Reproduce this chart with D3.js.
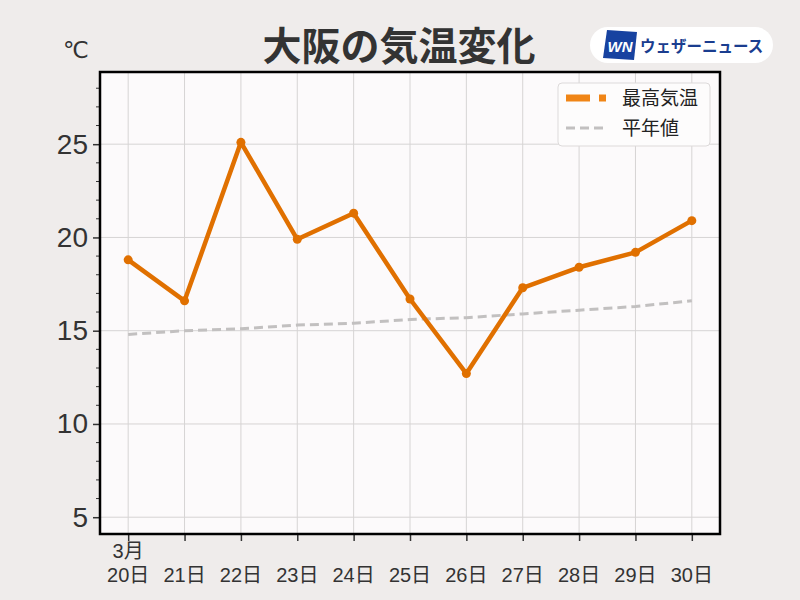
<!DOCTYPE html>
<html>
<head>
<meta charset="utf-8">
<script src="https://cdn.jsdelivr.net/npm/d3@7"></script>
<style>
  body { margin: 0; background: #efeceb; }
</style>
</head>
<body>
<div id="chart"></div>
<script>
// data
const days = [20, 21, 22, 23, 24, 25, 26, 27, 28, 29, 30];
const maxTemp = [18.8, 16.6, 25.1, 19.9, 21.3, 16.7, 12.7, 17.3, 18.4, 19.2, 20.9];
const normalTemp = [14.8, 15.0, 15.1, 15.3, 15.4, 15.6, 15.7, 15.9, 16.1, 16.3, 16.6];
const yTicks = [5, 10, 15, 20, 25];

const width = 800, height = 600;
const mLeft = 100, mRight = 720, mTop = 72, mBottom = 534;
const mixFont = "'Liberation Sans', 'Noto Sans CJK JP', sans-serif";
const jpFont = "'Noto Sans CJK JP', sans-serif";

const svg = d3.select("#chart").append("svg")
    .attr("width", width)
    .attr("height", height);

svg.append("rect").attr("width", width).attr("height", height).attr("fill", "#efeceb");

const x = d3.scaleLinear().domain([19.5, 30.5]).range([mLeft, mRight]);
const y = d3.scaleLinear().domain([4.1, 28.87]).range([mBottom, mTop]);

// plot background
svg.append("rect")
    .attr("x", mLeft).attr("y", mTop)
    .attr("width", mRight - mLeft).attr("height", mBottom - mTop)
    .attr("fill", "#fcfafb");

// grid
svg.append("g").selectAll("line")
    .data(yTicks).enter().append("line")
    .attr("x1", mLeft).attr("x2", mRight)
    .attr("y1", d => y(d)).attr("y2", d => y(d))
    .attr("stroke", "#d6d4d4").attr("stroke-width", 1);

svg.append("g").selectAll("line")
    .data(days).enter().append("line")
    .attr("y1", mTop).attr("y2", mBottom)
    .attr("x1", d => x(d)).attr("x2", d => x(d))
    .attr("stroke", "#d6d4d4").attr("stroke-width", 1);

// y axis
const yAxis = svg.append("g")
    .attr("transform", `translate(${mLeft},0)`)
    .call(d3.axisLeft(y).tickValues(yTicks).tickSize(7).tickPadding(5));
yAxis.select(".domain").remove();
yAxis.selectAll("text")
    .style("font-family", "'Liberation Sans', Arial, sans-serif")
    .style("font-size", "28px")
    .attr("fill", "#333");
yAxis.selectAll("line").attr("stroke", "#333").attr("stroke-width", 1.5);

const minor = d3.range(5, 29).filter(d => d % 5 !== 0);
svg.append("g").selectAll("line")
    .data(minor).enter().append("line")
    .attr("x1", mLeft - 4).attr("x2", mLeft)
    .attr("y1", d => y(d)).attr("y2", d => y(d))
    .attr("stroke", "#333").attr("stroke-width", 1);

// x axis
const xAxis = svg.append("g")
    .attr("transform", `translate(0,${mBottom})`)
    .call(d3.axisBottom(x).tickValues(days).tickSize(7).tickFormat(""));
xAxis.select(".domain").remove();
xAxis.selectAll("line").attr("stroke", "#333").attr("stroke-width", 1.5);

svg.append("g").selectAll("text")
    .data(days).enter().append("text")
    .attr("x", d => x(d)).attr("y", 582)
    .attr("text-anchor", "middle")
    .style("font-family", mixFont).style("font-size", "20px")
    .attr("fill", "#333")
    .text(d => d + "日");

svg.append("text")
    .attr("x", x(20)).attr("y", 558)
    .attr("text-anchor", "middle")
    .style("font-family", mixFont).style("font-size", "20px")
    .attr("fill", "#333")
    .text("3月");

// frame
svg.append("rect")
    .attr("x", mLeft).attr("y", mTop)
    .attr("width", mRight - mLeft).attr("height", mBottom - mTop)
    .attr("fill", "none").attr("stroke", "#000").attr("stroke-width", 2.5);

// unit
svg.append("text")
    .attr("x", 76).attr("y", 58)
    .attr("text-anchor", "middle")
    .style("font-family", "'DejaVu Sans', sans-serif").style("font-size", "23px")
    .attr("fill", "#333")
    .text("℃");

// normal line
const line = d3.line().x((d, i) => x(days[i])).y(d => y(d));
svg.append("path")
    .datum(normalTemp)
    .attr("d", line)
    .attr("fill", "none")
    .attr("stroke", "#c2c0c0")
    .attr("stroke-width", 3)
    .attr("stroke-dasharray", "9,5");

// max temp line
svg.append("path")
    .datum(maxTemp)
    .attr("d", line)
    .attr("fill", "none")
    .attr("stroke", "#e07000")
    .attr("stroke-width", 4.5)
    .attr("stroke-linejoin", "round");

svg.append("g").selectAll("circle")
    .data(maxTemp).enter().append("circle")
    .attr("cx", (d, i) => x(days[i]))
    .attr("cy", d => y(d))
    .attr("r", 4.5)
    .attr("fill", "#e07000");

// legend
const lg = svg.append("g");
lg.append("rect")
    .attr("x", 558).attr("y", 83).attr("width", 152).attr("height", 63)
    .attr("rx", 4)
    .attr("fill", "#fdfcfc").attr("stroke", "#dddada");
lg.append("line")
    .attr("x1", 566).attr("x2", 606).attr("y1", 98).attr("y2", 98)
    .attr("stroke", "#f08516").attr("stroke-width", 7)
    .attr("stroke-dasharray", "24,9,7,40");
lg.append("line")
    .attr("x1", 566).attr("x2", 606).attr("y1", 128).attr("y2", 128)
    .attr("stroke", "#c2c0c0").attr("stroke-width", 3)
    .attr("stroke-dasharray", "9,5");
lg.append("text").attr("x", 622).attr("y", 105)
    .style("font-family", jpFont).style("font-size", "19px")
    .attr("fill", "#222").text("最高気温");
lg.append("text").attr("x", 622).attr("y", 135)
    .style("font-family", jpFont).style("font-size", "19px")
    .attr("fill", "#222").text("平年値");

// title
svg.append("text")
    .attr("x", 399).attr("y", 60)
    .attr("text-anchor", "middle")
    .style("font-family", jpFont).style("font-size", "39px").style("font-weight", "bold")
    .attr("fill", "#333")
    .text("大阪の気温変化");

// logo
const logo = svg.append("g");
logo.append("rect")
    .attr("x", 590).attr("y", 27).attr("width", 183).attr("height", 36)
    .attr("rx", 18).attr("fill", "#ffffff");
logo.append("path")
    .attr("d", "M607,30 L637,32 L634,60 L603,58 Z")
    .attr("fill", "#1742a0");
logo.append("text")
    .attr("x", 620).attr("y", 52)
    .attr("text-anchor", "middle")
    .style("font-family", "'Liberation Sans', Arial, sans-serif")
    .style("font-size", "15px").style("font-weight", "bold").style("font-style", "italic")
    .attr("fill", "#fff")
    .text("WN");
logo.append("text")
    .attr("x", 640).attr("y", 52)
    .style("font-family", jpFont).style("font-size", "15.5px").style("font-weight", "bold")
    .attr("fill", "#1a3d8f")
    .text("ウェザーニュース");
</script>
</body>
</html>
